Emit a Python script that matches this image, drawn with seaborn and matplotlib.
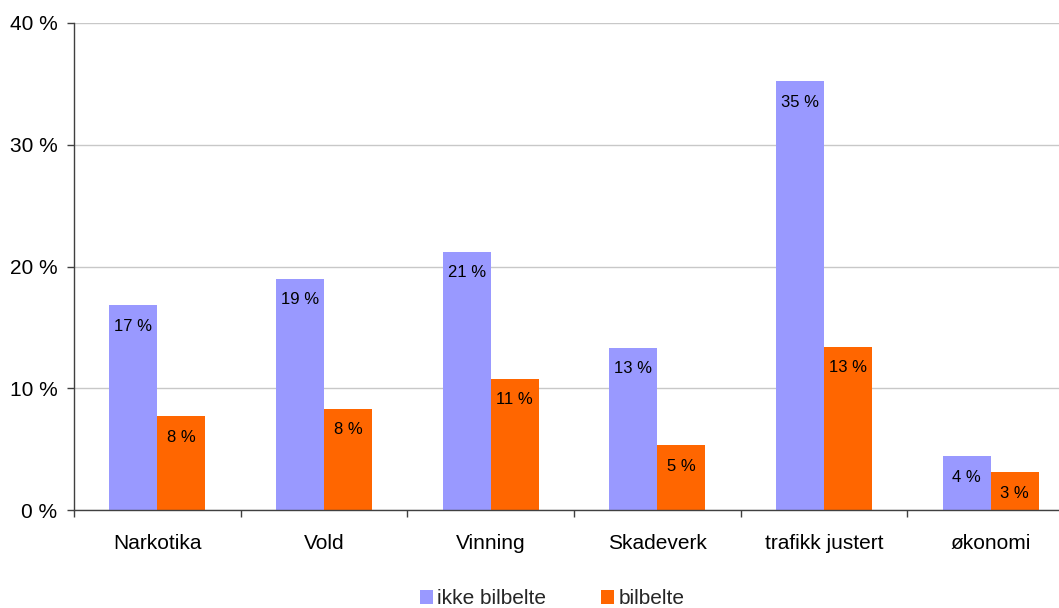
import matplotlib
matplotlib.use("Agg")
import matplotlib.pyplot as plt
import seaborn as sns
import pandas as pd
import numpy as np
from matplotlib.ticker import FixedLocator, FuncFormatter
from matplotlib.patches import Patch

categories = ["Narkotika", "Vold", "Vinning", "Skadeverk", "trafikk justert", "økonomi"]
series_names = ["ikke bilbelte", "bilbelte"]
ikke_bilbelte = [16.8, 19.0, 21.2, 13.3, 35.2, 4.4]
bilbelte = [7.7, 8.3, 10.8, 5.3, 13.4, 3.1]
y_ticks = [0, 10, 20, 30, 40]
colors = ["#9999FF", "#FF6600"]

sns.set_theme(style="white")
plt.rcParams["font.family"] = ["Liberation Sans", "DejaVu Sans"]

df = pd.DataFrame({
    "kategori": categories * 2,
    "gruppe": [series_names[0]] * len(categories) + [series_names[1]] * len(categories),
    "andel": ikke_bilbelte + bilbelte,
})

fig = plt.figure(figsize=(10.59, 6.08), dpi=100)
ax = fig.add_axes([74 / 1059, 98 / 608, 1000 / 1059, 487 / 608])

sns.barplot(data=df, x="kategori", y="andel", hue="gruppe", order=categories,
            hue_order=series_names, palette=colors, width=0.576, saturation=1,
            edgecolor="none", linewidth=0, legend=False, ax=ax)

ax.set_xlim(-0.5, len(categories) - 0.5)
ax.set_ylim(0, 40)
ax.yaxis.set_major_locator(FixedLocator(y_ticks))
ax.yaxis.set_major_formatter(FuncFormatter(lambda v, p: f"{v:.0f} %"))
ax.grid(axis="y", color="#c8c8c8", linewidth=1)
ax.set_axisbelow(True)
ax.set_xlabel("")
ax.set_ylabel("")

for side in ["top", "right"]:
    ax.spines[side].set_visible(False)
for side in ["left", "bottom"]:
    ax.spines[side].set_color("#404040")
    ax.spines[side].set_linewidth(1)

ax.tick_params(axis="y", which="major", length=5, width=1, color="#404040",
               labelsize=15, labelcolor="black", pad=7, left=True)
ax.tick_params(axis="x", which="major", length=0, labelsize=15, labelcolor="black", pad=17)
ax.set_xticks(np.arange(-0.5, len(categories), 1.0), minor=True)
ax.tick_params(axis="x", which="minor", length=5, width=1, color="#404040", bottom=True)

for container in ax.containers:
    for bar in container:
        h = bar.get_height()
        ax.annotate(f"{h:.0f} %", xy=(bar.get_x() + bar.get_width() / 2, h),
                    xytext=(0, -15), textcoords="offset points",
                    ha="center", va="center", fontsize=12, color="black")

handles = [Patch(facecolor=c, edgecolor="none", label=n) for c, n in zip(colors, series_names)]
fig.legend(handles=handles, loc="center", bbox_to_anchor=(552 / 1059, 9 / 608),
           ncol=2, frameon=False, fontsize=15, handlelength=0.65, handleheight=0.65,
           handletextpad=0.2, columnspacing=2.6)

fig.savefig("out.png", dpi=100)
